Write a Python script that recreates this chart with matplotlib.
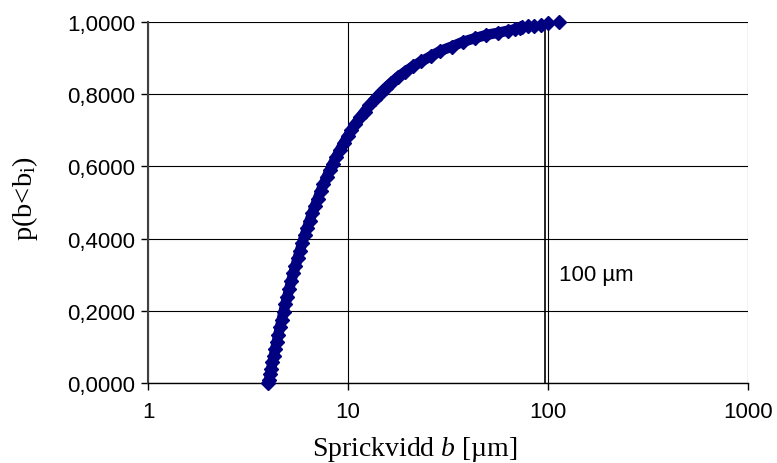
import matplotlib
matplotlib.use("Agg")
import matplotlib.pyplot as plt
from matplotlib.ticker import FixedLocator, FuncFormatter, NullLocator

plt.rcParams['font.family'] = ['Liberation Sans', 'DejaVu Sans']
plt.rcParams['mathtext.fontset'] = 'custom'
plt.rcParams['mathtext.rm'] = 'Liberation Serif'
plt.rcParams['mathtext.it'] = 'Liberation Serif:italic'

# sprickvidd b [um] och kumulativ sannolikhet p(b<bi)
sprickvidd = [4.00, 4.03, 4.08, 4.13, 4.19, 4.26, 4.33, 4.40, 4.48, 4.57,
              4.66, 4.76, 4.86, 4.97, 5.08, 5.20, 5.33, 5.46, 5.60, 5.75,
              5.91, 6.07, 6.25, 6.43, 6.62, 6.83, 7.05, 7.29, 7.54, 7.81,
              8.10, 8.41, 8.75, 9.12, 9.52, 9.96, 10.4, 10.9, 11.5, 12.1,
              12.8, 13.6, 14.4, 15.4, 16.5, 17.8, 19.3, 21.1, 23.3, 25.9,
              29.0, 33.0, 37.5, 43.0, 49.0, 56.0, 63.0, 68.5, 72.5,
              74.3, 79.3, 85.0, 91.8, 100.0, 113.5]
sannolikhet = [0.000, 0.009, 0.025, 0.040, 0.057, 0.076, 0.095, 0.113, 0.133, 0.155,
               0.175, 0.197, 0.218, 0.239, 0.260, 0.282, 0.304, 0.324, 0.346, 0.367,
               0.389, 0.409, 0.430, 0.450, 0.470, 0.490, 0.510, 0.531, 0.550, 0.570,
               0.589, 0.608, 0.627, 0.646, 0.665, 0.683, 0.700, 0.717, 0.736, 0.752,
               0.769, 0.786, 0.801, 0.817, 0.832, 0.848, 0.862, 0.877, 0.891, 0.905,
               0.920, 0.932, 0.945, 0.955, 0.964, 0.970, 0.976, 0.980, 0.983,
               0.985, 0.988, 0.990, 0.993, 0.997, 1.000]
antal_tät = 59  # punkterna som ligger tätt och bildar ett band

x_ticks = [1, 10, 100, 1000]
y_ticks = [0.0, 0.2, 0.4, 0.6, 0.8, 1.0]
gräns_linje = 96.5
gräns_text = "100 µm"

navy = "#000080"

fig = plt.figure(figsize=(7.77, 4.64), dpi=100)
ax = fig.add_axes([148 / 777, 1 - 384 / 464, 600 / 777, 361 / 464])

ax.set_xscale("log")
ax.set_xlim(1, 1000)
ax.set_ylim(0, 1)

ax.xaxis.set_major_locator(FixedLocator(x_ticks))
ax.xaxis.set_minor_locator(NullLocator())
ax.xaxis.set_major_formatter(FuncFormatter(lambda v, pos: f"{v:g}"))
ax.yaxis.set_major_locator(FixedLocator(y_ticks))
ax.yaxis.set_major_formatter(FuncFormatter(lambda v, pos: f"{v:.4f}".replace(".", ",")))

ax.grid(True, which="major", color="black", linewidth=0.8)
ax.set_axisbelow(True)

for s in ["top", "right"]:
    ax.spines[s].set_visible(False)
ax.spines["left"].set_color("#404040")
ax.spines["left"].set_linewidth(1.5)
ax.spines["bottom"].set_linewidth(1.0)

ax.tick_params(axis="both", direction="out", length=5, width=1, labelsize=16)
ax.tick_params(axis="x", pad=8)
ax.tick_params(axis="y", pad=4)

ax.axvline(gräns_linje, color="black", linewidth=1.2, zorder=2)

# tätt band + enskilda romber
ax.plot(sprickvidd[:antal_tät], sannolikhet[:antal_tät], color=navy, linewidth=7.5,
        solid_capstyle="round", zorder=3, clip_on=False)
ax.plot(sprickvidd, sannolikhet, linestyle="none", marker="D", markersize=7,
        color=navy, zorder=4, clip_on=False)

ax.text(114, 0.30, gräns_text, fontsize=16, ha="left", va="center")

ax.set_xlabel("Sprickvidd $\\mathit{b}$ [µm]", family="Liberation Serif", fontsize=20)
ax.set_ylabel("p(b<b$_\\mathrm{i}$)", family="Liberation Serif", fontsize=20.5)
ax.xaxis.set_label_coords(0.445, -0.14)
ax.yaxis.set_label_coords(-0.18, 0.514)

fig.savefig("out.png", dpi=100)
